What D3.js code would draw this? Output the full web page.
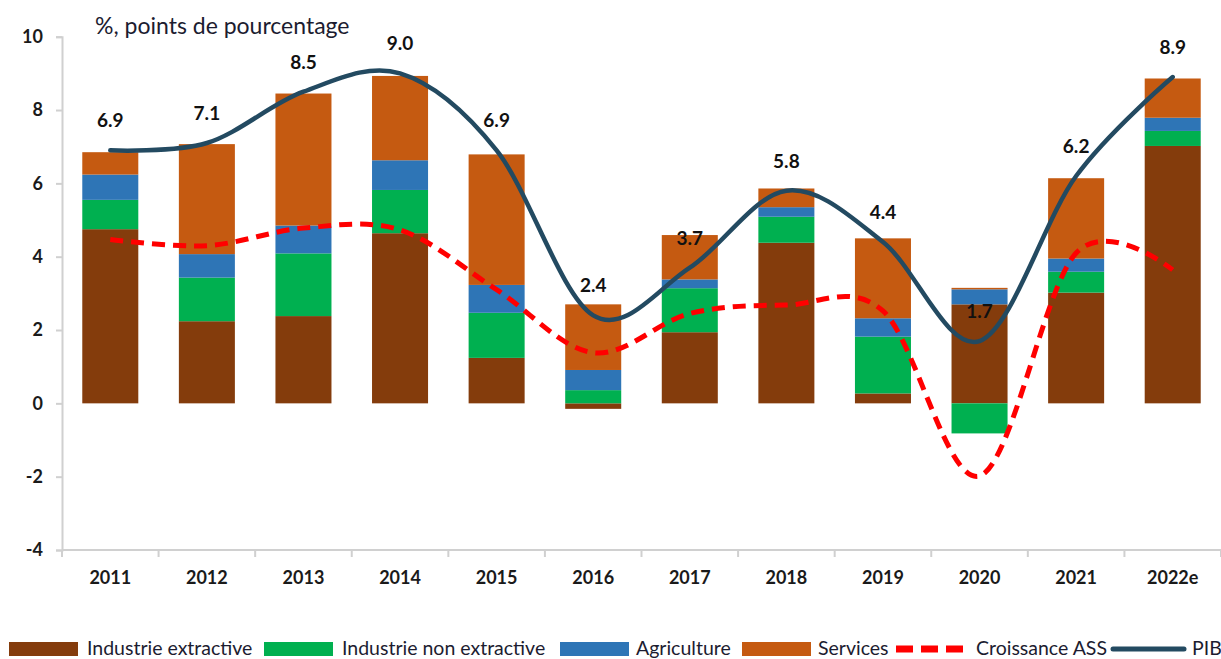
<!DOCTYPE html>
<html><head><meta charset="utf-8">
<script src="https://cdn.jsdelivr.net/npm/d3@7"></script>
<style>body{margin:0;background:#fff}svg{display:block}</style>
</head><body>
<script>
const years = ["2011","2012","2013","2014","2015","2016","2017","2018","2019","2020","2021","2022e"];
const extractive    = [4.75, 2.24, 2.38, 4.64, 1.24, -0.15, 1.94, 4.38, 0.27, 2.70, 3.02, 7.02];
const nonExtractive = [0.80, 1.19, 1.71, 1.18, 1.23, 0.36, 1.20, 0.71, 1.55, -0.82, 0.57, 0.41];
const agriculture   = [0.69, 0.64, 0.76, 0.81, 0.76, 0.55, 0.24, 0.26, 0.50, 0.41, 0.36, 0.36];
const services      = [0.61, 3.00, 3.60, 2.30, 3.56, 1.79, 1.21, 0.51, 2.18, 0.04, 2.19, 1.07];
const pib           = [6.9, 7.1, 8.5, 9.0, 6.9, 2.4, 3.7, 5.8, 4.4, 1.7, 6.2, 8.9];
const croissanceASS = [4.47, 4.30, 4.78, 4.73, 3.10, 1.38, 2.45, 2.68, 2.52, -1.98, 4.10, 3.64];
const yTicks = [-4, -2, 0, 2, 4, 6, 8, 10];
const seriesNames = ["Industrie extractive","Industrie non extractive","Agriculture","Services"];
const colors = ["#843C0C","#00B050","#2E75B6","#C55A11"];

const W = 1221, H = 659;
const svg = d3.select("body").append("svg").attr("width", W).attr("height", H);
const x = d3.scaleBand().domain(years).range([62, 1221]).paddingInner(0.42).paddingOuter(0.21);
const y = d3.scaleLinear().domain([-4, 10]).range([550, 36.7]);

const rows = years.map((yr, i) => ({year: yr, s0: extractive[i], s1: nonExtractive[i], s2: agriculture[i], s3: services[i]}));
const stack = d3.stack().keys(["s0","s1","s2","s3"]).offset(d3.stackOffsetDiverging);
const stacked = stack(rows);

const font = "Lato, 'Open Sans', sans-serif";

// bars
svg.append("g").selectAll("g").data(stacked).join("g")
  .attr("fill", (d, i) => colors[i])
  .selectAll("rect").data(d => d).join("rect")
  .attr("x", d => x(d.data.year))
  .attr("width", x.bandwidth())
  .attr("y", d => y(Math.max(d[0], d[1])))
  .attr("height", d => Math.abs(y(d[0]) - y(d[1])));

// axes
const axisColor = "#d0d0d0";
const yAxis = svg.append("g").attr("transform", "translate(62,0)")
  .call(d3.axisLeft(y).tickValues(yTicks).tickSize(6).tickPadding(13).tickFormat(d => String(d)));
yAxis.select(".domain").attr("stroke", axisColor).attr("stroke-width", 2);
yAxis.selectAll(".tick line").attr("stroke", axisColor).attr("stroke-width", 2);
yAxis.selectAll("text").attr("font-family", font).attr("font-weight", "bold").attr("font-size", 18).attr("fill", "#1a1a1a");

const xAxisG = svg.append("g").attr("transform", "translate(0,550)");
xAxisG.append("line").attr("x1", 62).attr("x2", 1221).attr("stroke", axisColor).attr("stroke-width", 2);
const step = x.step();
const bounds = d3.range(years.length + 1).map(i => 62 + i * step);
xAxisG.selectAll("line.tk").data(bounds).join("line").attr("class", "tk")
  .attr("x1", d => d).attr("x2", d => d).attr("y1", 0).attr("y2", 7)
  .attr("stroke", axisColor).attr("stroke-width", 2);
xAxisG.selectAll("text").data(years).join("text")
  .attr("x", d => x(d) + x.bandwidth() / 2).attr("y", 34)
  .attr("text-anchor", "middle").attr("font-family", font).attr("font-weight", "bold")
  .attr("font-size", 18).attr("fill", "#1a1a1a").text(d => d);

// lines
const cx = i => x(years[i]) + x.bandwidth() / 2;
const curve = d3.curveCardinal.tension(0);
const ass = d3.line().x((d, i) => cx(i)).y(d => y(d)).curve(curve);
svg.append("path").datum(croissanceASS).attr("d", ass)
  .attr("fill", "none").attr("stroke", "#FF0000").attr("stroke-width", 5)
  .attr("stroke-dasharray", "13,8");
const pl = d3.line().x((d, i) => cx(i)).y(d => y(d)).curve(curve);
svg.append("path").datum(pib).attr("d", pl)
  .attr("fill", "none").attr("stroke", "#234A61").attr("stroke-width", 4.5).attr("stroke-linecap", "round");

// PIB labels
svg.append("g").selectAll("text").data(pib).join("text")
  .attr("x", (d, i) => cx(i)).attr("y", d => y(d) - 23)
  .attr("text-anchor", "middle").attr("font-family", font).attr("font-weight", "bold")
  .attr("font-size", 19).attr("fill", "#111").text(d => d.toFixed(1));

// title
svg.append("text").attr("x", 95).attr("y", 34).attr("font-family", font)
  .attr("font-size", 23).attr("fill", "#1c1c30").text("%, points de pourcentage");

// legend
const lg = svg.append("g").attr("font-family", font).attr("font-size", 19.5).attr("fill", "#1c1c30");
const legendItems = [
  {name: seriesNames[0], type: "rect", color: colors[0], sx: 9, tx: 87},
  {name: seriesNames[1], type: "rect", color: colors[1], sx: 264, tx: 342},
  {name: seriesNames[2], type: "rect", color: colors[2], sx: 560, tx: 636},
  {name: seriesNames[3], type: "rect", color: colors[3], sx: 742, tx: 818},
  {name: "Croissance ASS", type: "dash", color: "#FF0000", sx: 896, tx: 976},
  {name: "PIB", type: "line", color: "#234A61", sx: 1113, tx: 1192}
];
const ly = 649;
legendItems.forEach(it => {
  if (it.type === "rect") {
    lg.append("rect").attr("x", it.sx).attr("y", ly - 7).attr("width", 69).attr("height", 14).attr("fill", it.color);
  } else if (it.type === "dash") {
    lg.append("line").attr("x1", it.sx).attr("x2", it.sx + 67).attr("y1", ly).attr("y2", ly)
      .attr("stroke", it.color).attr("stroke-width", 7).attr("stroke-dasharray", "17,8");
  } else {
    lg.append("line").attr("x1", it.sx).attr("x2", it.sx + 71).attr("y1", ly).attr("y2", ly)
      .attr("stroke", it.color).attr("stroke-width", 5).attr("stroke-linecap", "round");
  }
  lg.append("text").attr("x", it.tx).attr("y", ly + 6).text(it.name);
});
</script>
</body></html>
